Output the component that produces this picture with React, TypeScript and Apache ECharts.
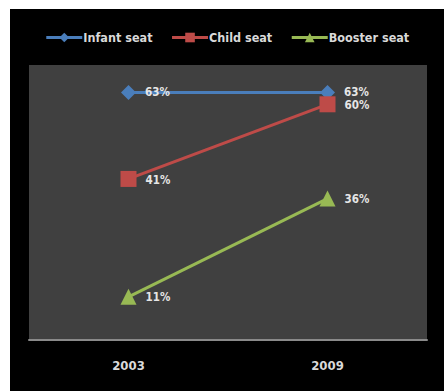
import React, { useEffect, useRef } from "react";
import * as echarts from "echarts";

const categories = ["2003", "2009"];
const infantSeat = [63, 63];
const childSeat = [41, 60];
const boosterSeat = [11, 36];

export default function App() {
  const ref = useRef<HTMLDivElement>(null);
  useEffect(() => {
    if (!ref.current) return;
    const chart = echarts.init(ref.current, null, { renderer: "svg" });
    const font = "'DejaVu Sans Condensed', 'DejaVu Sans', sans-serif";
    const label = {
      show: true,
      position: "right" as const,
      distance: 9,
      color: "#e6e6e6",
      fontFamily: font,
      fontWeight: "bold" as const,
      fontSize: 11.5,
      lineHeight: 11,
      formatter: "{c}%",
    };
    chart.setOption({
      animation: false,
      backgroundColor: "#000000",
      legend: {
        top: 17,
        left: "center",
        itemWidth: 36,
        itemHeight: 12,
        itemGap: 18,
        lineStyle: { width: 3 },
        textStyle: { color: "#d9d9d9", fontFamily: font, fontWeight: "bold", fontSize: 12.5, padding: [0, 0, 0, -4] },
        data: ["Infant seat", "Child seat", "Booster seat"],
      },
      grid: { left: 19, right: 17, top: 56, bottom: 51, backgroundColor: "#404040", show: true, borderWidth: 0 },
      xAxis: {
        type: "category",
        data: categories,
        boundaryGap: true,
        axisLine: { lineStyle: { color: "#8a8a8a", width: 2 } },
        axisTick: { show: false },
        axisLabel: { color: "#d9d9d9", fontFamily: font, fontWeight: "bold", fontSize: 13, margin: 19 },
      },
      yAxis: {
        type: "value",
        min: 0,
        max: 70,
        show: false,
        splitLine: { show: false },
      },
      series: [
        {
          name: "Infant seat",
          type: "line",
          data: infantSeat,
          symbol: "diamond",
          symbolSize: 15,
          color: "#4a7ebb",
          lineStyle: { width: 3, color: "#4a7ebb" },
          label: { ...label, offset: [0, -1] },
        },
        {
          name: "Child seat",
          type: "line",
          data: childSeat,
          symbol: "rect",
          symbolSize: 16,
          color: "#be4b48",
          lineStyle: { width: 3, color: "#be4b48" },
          label: { ...label, offset: [0, 1] },
        },
        {
          name: "Booster seat",
          type: "line",
          data: boosterSeat,
          symbol: "triangle",
          symbolSize: 16,
          color: "#98b954",
          lineStyle: { width: 3, color: "#98b954" },
          label,
        },
      ],
    });
    return () => chart.dispose();
  }, []);
  return (
    <div style={{ position: "fixed", left: 0, top: 0, width: 444, height: 391, background: "#ffffff" }}>
      <div ref={ref} style={{ position: "absolute", left: 10, top: 9, width: 434, height: 382 }} />
    </div>
  );
}
